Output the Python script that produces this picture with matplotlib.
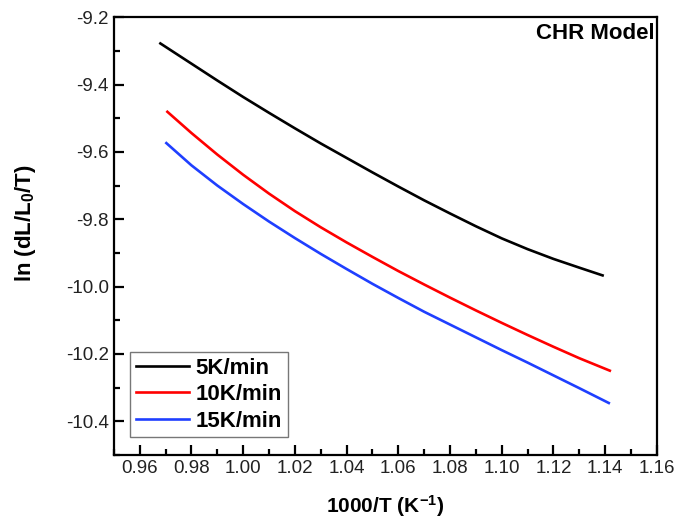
import matplotlib
matplotlib.use('Agg')
import matplotlib.pyplot as plt
from matplotlib.ticker import MultipleLocator, FormatStrFormatter

plt.rcParams['font.family'] = ['Liberation Sans', 'DejaVu Sans']
plt.rcParams['mathtext.fontset'] = 'custom'
plt.rcParams['mathtext.rm'] = 'Liberation Sans:bold'
plt.rcParams['mathtext.it'] = 'Liberation Sans:bold'
plt.rcParams['mathtext.bf'] = 'Liberation Sans:bold'

labels = ['5K/min', '10K/min', '15K/min']
colors = ['black', 'red', '#1f3fff']

x_5 = [0.968, 0.98, 0.99, 1.00, 1.01, 1.02, 1.03, 1.04, 1.05, 1.06, 1.07,
       1.08, 1.09, 1.10, 1.11, 1.12, 1.13, 1.139]
y_5 = [-9.278, -9.338, -9.388, -9.437, -9.484, -9.530, -9.575, -9.618, -9.661,
       -9.703, -9.744, -9.783, -9.821, -9.857, -9.889, -9.918, -9.944, -9.967]

x_10 = [0.9707, 0.98, 0.99, 1.00, 1.01, 1.02, 1.03, 1.04, 1.05, 1.06, 1.07,
        1.08, 1.09, 1.10, 1.11, 1.12, 1.13, 1.1418]
y_10 = [-9.481, -9.544, -9.608, -9.668, -9.724, -9.776, -9.824, -9.869, -9.912,
        -9.954, -9.994, -10.033, -10.071, -10.108, -10.144, -10.179, -10.213, -10.250]

x_15 = [0.9703, 0.98, 0.99, 1.00, 1.01, 1.02, 1.03, 1.04, 1.05, 1.06, 1.07,
        1.08, 1.09, 1.10, 1.11, 1.12, 1.13, 1.1414]
y_15 = [-9.574, -9.640, -9.700, -9.755, -9.807, -9.856, -9.903, -9.948, -9.992,
        -10.034, -10.075, -10.113, -10.151, -10.189, -10.226, -10.264, -10.302, -10.346]

fig = plt.figure(figsize=(6.9, 5.21), dpi=100)
ax = fig.add_axes([0.165, 0.127, 0.787, 0.840])

for xs, ys, lab, c in zip([x_5, x_10, x_15], [y_5, y_10, y_15], labels, colors):
    ax.plot(xs, ys, color=c, lw=1.9, label=lab)

ax.set_xlim(0.95, 1.16)
ax.set_ylim(-10.5, -9.2)
ax.xaxis.set_major_locator(MultipleLocator(0.02))
ax.xaxis.set_minor_locator(MultipleLocator(0.01))
ax.yaxis.set_major_locator(MultipleLocator(0.2))
ax.yaxis.set_minor_locator(MultipleLocator(0.1))
ax.xaxis.set_major_formatter(FormatStrFormatter('%.2f'))
ax.yaxis.set_major_formatter(FormatStrFormatter('%.1f'))

for s in ax.spines.values():
    s.set_linewidth(1.6)
ax.tick_params(which='both', direction='in', top=False, right=False, labelsize=13.5, width=1.6, colors='black')
ax.tick_params(which='major', length=7)
ax.tick_params(which='minor', length=4)
for t in ax.get_xticklabels() + ax.get_yticklabels():
    t.set_color('#222222')

ax.set_xlabel('1000/T (K$^{-1}$)', fontsize=15, fontweight='bold', labelpad=12)
ax.set_ylabel('ln (dL/L$_0$/T)', fontsize=16, fontweight='bold')
ax.yaxis.set_label_coords(-0.14, 0.53)

ax.text(0.995, 0.987, 'CHR Model', transform=ax.transAxes, ha='right', va='top',
        fontsize=16, fontweight='bold')

leg = ax.legend(loc='lower left', bbox_to_anchor=(0.03, 0.04), borderaxespad=0,
                fancybox=False, edgecolor='#555555', handlelength=2.4,
                prop={'size': 16, 'weight': 'bold'}, labelspacing=0.25,
                borderpad=0.25, handletextpad=0.3)
leg.get_frame().set_linewidth(1.0)

fig.savefig('out.png', dpi=100)
